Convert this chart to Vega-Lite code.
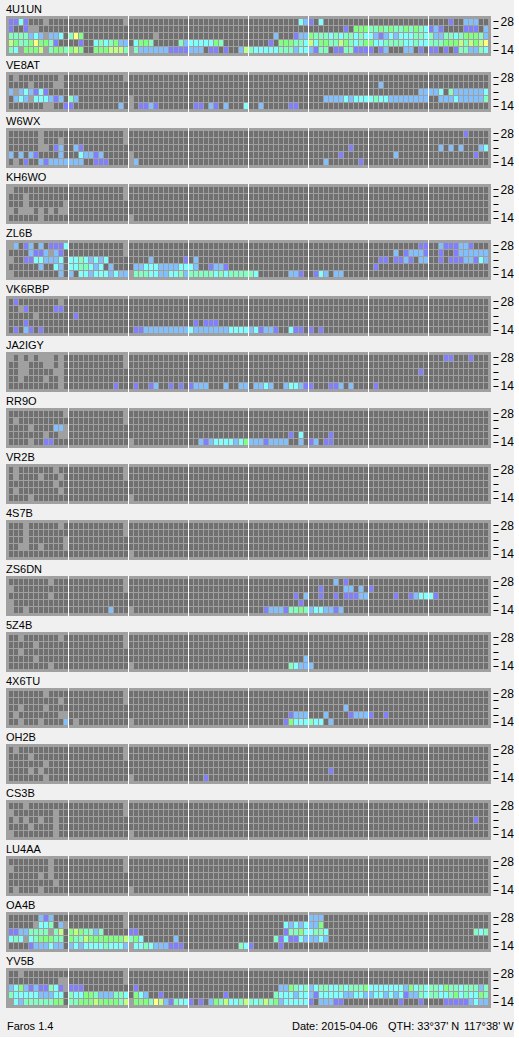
{"$schema":"https://vega.github.io/schema/vega-lite/v6.json","background":"#F0F0F0","padding":{"left":6,"top":3,"right":0,"bottom":0},"config":{"view":{"fill":"#A0A0A0","stroke":null},"font":"Liberation Sans"},"datasets":{"seps":[{"c":12},{"c":24},{"c":36},{"c":48},{"c":60},{"c":72},{"c":84}],
"foot":[{"t":"Faros 1.4","p":1},{"t":"Date: 2015-04-06","p":286},{"t":"QTH: 33°37' N","p":382},{"t":"117°38' W","p":458}],
"grid":[{"c":0,"b":"28"},{"c":1,"b":"28"},{"c":2,"b":"28"},{"c":3,"b":"28"},{"c":4,"b":"28"},{"c":5,"b":"28"},{"c":6,"b":"28"},{"c":7,"b":"28"},{"c":8,"b":"28"},{"c":9,"b":"28"},{"c":10,"b":"28"},{"c":11,"b":"28"},{"c":12,"b":"28"},{"c":13,"b":"28"},{"c":14,"b":"28"},{"c":15,"b":"28"},{"c":16,"b":"28"},{"c":17,"b":"28"},{"c":18,"b":"28"},{"c":19,"b":"28"},{"c":20,"b":"28"},{"c":21,"b":"28"},{"c":22,"b":"28"},{"c":23,"b":"28"},{"c":24,"b":"28"},{"c":25,"b":"28"},{"c":26,"b":"28"},{"c":27,"b":"28"},{"c":28,"b":"28"},{"c":29,"b":"28"},{"c":30,"b":"28"},{"c":31,"b":"28"},{"c":32,"b":"28"},{"c":33,"b":"28"},{"c":34,"b":"28"},{"c":35,"b":"28"},{"c":36,"b":"28"},{"c":37,"b":"28"},{"c":38,"b":"28"},{"c":39,"b":"28"},{"c":40,"b":"28"},{"c":41,"b":"28"},{"c":42,"b":"28"},{"c":43,"b":"28"},{"c":44,"b":"28"},{"c":45,"b":"28"},{"c":46,"b":"28"},{"c":47,"b":"28"},{"c":48,"b":"28"},{"c":49,"b":"28"},{"c":50,"b":"28"},{"c":51,"b":"28"},{"c":52,"b":"28"},{"c":53,"b":"28"},{"c":54,"b":"28"},{"c":55,"b":"28"},{"c":56,"b":"28"},{"c":57,"b":"28"},{"c":58,"b":"28"},{"c":59,"b":"28"},{"c":60,"b":"28"},{"c":61,"b":"28"},{"c":62,"b":"28"},{"c":63,"b":"28"},{"c":64,"b":"28"},{"c":65,"b":"28"},{"c":66,"b":"28"},{"c":67,"b":"28"},{"c":68,"b":"28"},{"c":69,"b":"28"},{"c":70,"b":"28"},{"c":71,"b":"28"},{"c":72,"b":"28"},{"c":73,"b":"28"},{"c":74,"b":"28"},{"c":75,"b":"28"},{"c":76,"b":"28"},{"c":77,"b":"28"},{"c":78,"b":"28"},{"c":79,"b":"28"},{"c":80,"b":"28"},{"c":81,"b":"28"},{"c":82,"b":"28"},{"c":83,"b":"28"},{"c":84,"b":"28"},{"c":85,"b":"28"},{"c":86,"b":"28"},{"c":87,"b":"28"},{"c":88,"b":"28"},{"c":89,"b":"28"},{"c":90,"b":"28"},{"c":91,"b":"28"},{"c":92,"b":"28"},{"c":93,"b":"28"},{"c":94,"b":"28"},{"c":95,"b":"28"},
{"c":0,"b":"24"},{"c":1,"b":"24"},{"c":2,"b":"24"},{"c":3,"b":"24"},{"c":4,"b":"24"},{"c":5,"b":"24"},{"c":6,"b":"24"},{"c":7,"b":"24"},{"c":8,"b":"24"},{"c":9,"b":"24"},{"c":10,"b":"24"},{"c":11,"b":"24"},{"c":12,"b":"24"},{"c":13,"b":"24"},{"c":14,"b":"24"},{"c":15,"b":"24"},{"c":16,"b":"24"},{"c":17,"b":"24"},{"c":18,"b":"24"},{"c":19,"b":"24"},{"c":20,"b":"24"},{"c":21,"b":"24"},{"c":22,"b":"24"},{"c":23,"b":"24"},{"c":24,"b":"24"},{"c":25,"b":"24"},{"c":26,"b":"24"},{"c":27,"b":"24"},{"c":28,"b":"24"},{"c":29,"b":"24"},{"c":30,"b":"24"},{"c":31,"b":"24"},{"c":32,"b":"24"},{"c":33,"b":"24"},{"c":34,"b":"24"},{"c":35,"b":"24"},{"c":36,"b":"24"},{"c":37,"b":"24"},{"c":38,"b":"24"},{"c":39,"b":"24"},{"c":40,"b":"24"},{"c":41,"b":"24"},{"c":42,"b":"24"},{"c":43,"b":"24"},{"c":44,"b":"24"},{"c":45,"b":"24"},{"c":46,"b":"24"},{"c":47,"b":"24"},{"c":48,"b":"24"},{"c":49,"b":"24"},{"c":50,"b":"24"},{"c":51,"b":"24"},{"c":52,"b":"24"},{"c":53,"b":"24"},{"c":54,"b":"24"},{"c":55,"b":"24"},{"c":56,"b":"24"},{"c":57,"b":"24"},{"c":58,"b":"24"},{"c":59,"b":"24"},{"c":60,"b":"24"},{"c":61,"b":"24"},{"c":62,"b":"24"},{"c":63,"b":"24"},{"c":64,"b":"24"},{"c":65,"b":"24"},{"c":66,"b":"24"},{"c":67,"b":"24"},{"c":68,"b":"24"},{"c":69,"b":"24"},{"c":70,"b":"24"},{"c":71,"b":"24"},{"c":72,"b":"24"},{"c":73,"b":"24"},{"c":74,"b":"24"},{"c":75,"b":"24"},{"c":76,"b":"24"},{"c":77,"b":"24"},{"c":78,"b":"24"},{"c":79,"b":"24"},{"c":80,"b":"24"},{"c":81,"b":"24"},{"c":82,"b":"24"},{"c":83,"b":"24"},{"c":84,"b":"24"},{"c":85,"b":"24"},{"c":86,"b":"24"},{"c":87,"b":"24"},{"c":88,"b":"24"},{"c":89,"b":"24"},{"c":90,"b":"24"},{"c":91,"b":"24"},{"c":92,"b":"24"},{"c":93,"b":"24"},{"c":94,"b":"24"},{"c":95,"b":"24"},
{"c":0,"b":"21"},{"c":1,"b":"21"},{"c":2,"b":"21"},{"c":3,"b":"21"},{"c":4,"b":"21"},{"c":5,"b":"21"},{"c":6,"b":"21"},{"c":7,"b":"21"},{"c":8,"b":"21"},{"c":9,"b":"21"},{"c":10,"b":"21"},{"c":11,"b":"21"},{"c":12,"b":"21"},{"c":13,"b":"21"},{"c":14,"b":"21"},{"c":15,"b":"21"},{"c":16,"b":"21"},{"c":17,"b":"21"},{"c":18,"b":"21"},{"c":19,"b":"21"},{"c":20,"b":"21"},{"c":21,"b":"21"},{"c":22,"b":"21"},{"c":23,"b":"21"},{"c":24,"b":"21"},{"c":25,"b":"21"},{"c":26,"b":"21"},{"c":27,"b":"21"},{"c":28,"b":"21"},{"c":29,"b":"21"},{"c":30,"b":"21"},{"c":31,"b":"21"},{"c":32,"b":"21"},{"c":33,"b":"21"},{"c":34,"b":"21"},{"c":35,"b":"21"},{"c":36,"b":"21"},{"c":37,"b":"21"},{"c":38,"b":"21"},{"c":39,"b":"21"},{"c":40,"b":"21"},{"c":41,"b":"21"},{"c":42,"b":"21"},{"c":43,"b":"21"},{"c":44,"b":"21"},{"c":45,"b":"21"},{"c":46,"b":"21"},{"c":47,"b":"21"},{"c":48,"b":"21"},{"c":49,"b":"21"},{"c":50,"b":"21"},{"c":51,"b":"21"},{"c":52,"b":"21"},{"c":53,"b":"21"},{"c":54,"b":"21"},{"c":55,"b":"21"},{"c":56,"b":"21"},{"c":57,"b":"21"},{"c":58,"b":"21"},{"c":59,"b":"21"},{"c":60,"b":"21"},{"c":61,"b":"21"},{"c":62,"b":"21"},{"c":63,"b":"21"},{"c":64,"b":"21"},{"c":65,"b":"21"},{"c":66,"b":"21"},{"c":67,"b":"21"},{"c":68,"b":"21"},{"c":69,"b":"21"},{"c":70,"b":"21"},{"c":71,"b":"21"},{"c":72,"b":"21"},{"c":73,"b":"21"},{"c":74,"b":"21"},{"c":75,"b":"21"},{"c":76,"b":"21"},{"c":77,"b":"21"},{"c":78,"b":"21"},{"c":79,"b":"21"},{"c":80,"b":"21"},{"c":81,"b":"21"},{"c":82,"b":"21"},{"c":83,"b":"21"},{"c":84,"b":"21"},{"c":85,"b":"21"},{"c":86,"b":"21"},{"c":87,"b":"21"},{"c":88,"b":"21"},{"c":89,"b":"21"},{"c":90,"b":"21"},{"c":91,"b":"21"},{"c":92,"b":"21"},{"c":93,"b":"21"},{"c":94,"b":"21"},{"c":95,"b":"21"},
{"c":0,"b":"18"},{"c":1,"b":"18"},{"c":2,"b":"18"},{"c":3,"b":"18"},{"c":4,"b":"18"},{"c":5,"b":"18"},{"c":6,"b":"18"},{"c":7,"b":"18"},{"c":8,"b":"18"},{"c":9,"b":"18"},{"c":10,"b":"18"},{"c":11,"b":"18"},{"c":12,"b":"18"},{"c":13,"b":"18"},{"c":14,"b":"18"},{"c":15,"b":"18"},{"c":16,"b":"18"},{"c":17,"b":"18"},{"c":18,"b":"18"},{"c":19,"b":"18"},{"c":20,"b":"18"},{"c":21,"b":"18"},{"c":22,"b":"18"},{"c":23,"b":"18"},{"c":24,"b":"18"},{"c":25,"b":"18"},{"c":26,"b":"18"},{"c":27,"b":"18"},{"c":28,"b":"18"},{"c":29,"b":"18"},{"c":30,"b":"18"},{"c":31,"b":"18"},{"c":32,"b":"18"},{"c":33,"b":"18"},{"c":34,"b":"18"},{"c":35,"b":"18"},{"c":36,"b":"18"},{"c":37,"b":"18"},{"c":38,"b":"18"},{"c":39,"b":"18"},{"c":40,"b":"18"},{"c":41,"b":"18"},{"c":42,"b":"18"},{"c":43,"b":"18"},{"c":44,"b":"18"},{"c":45,"b":"18"},{"c":46,"b":"18"},{"c":47,"b":"18"},{"c":48,"b":"18"},{"c":49,"b":"18"},{"c":50,"b":"18"},{"c":51,"b":"18"},{"c":52,"b":"18"},{"c":53,"b":"18"},{"c":54,"b":"18"},{"c":55,"b":"18"},{"c":56,"b":"18"},{"c":57,"b":"18"},{"c":58,"b":"18"},{"c":59,"b":"18"},{"c":60,"b":"18"},{"c":61,"b":"18"},{"c":62,"b":"18"},{"c":63,"b":"18"},{"c":64,"b":"18"},{"c":65,"b":"18"},{"c":66,"b":"18"},{"c":67,"b":"18"},{"c":68,"b":"18"},{"c":69,"b":"18"},{"c":70,"b":"18"},{"c":71,"b":"18"},{"c":72,"b":"18"},{"c":73,"b":"18"},{"c":74,"b":"18"},{"c":75,"b":"18"},{"c":76,"b":"18"},{"c":77,"b":"18"},{"c":78,"b":"18"},{"c":79,"b":"18"},{"c":80,"b":"18"},{"c":81,"b":"18"},{"c":82,"b":"18"},{"c":83,"b":"18"},{"c":84,"b":"18"},{"c":85,"b":"18"},{"c":86,"b":"18"},{"c":87,"b":"18"},{"c":88,"b":"18"},{"c":89,"b":"18"},{"c":90,"b":"18"},{"c":91,"b":"18"},{"c":92,"b":"18"},{"c":93,"b":"18"},{"c":94,"b":"18"},{"c":95,"b":"18"},
{"c":0,"b":"14"},{"c":1,"b":"14"},{"c":2,"b":"14"},{"c":3,"b":"14"},{"c":4,"b":"14"},{"c":5,"b":"14"},{"c":6,"b":"14"},{"c":7,"b":"14"},{"c":8,"b":"14"},{"c":9,"b":"14"},{"c":10,"b":"14"},{"c":11,"b":"14"},{"c":12,"b":"14"},{"c":13,"b":"14"},{"c":14,"b":"14"},{"c":15,"b":"14"},{"c":16,"b":"14"},{"c":17,"b":"14"},{"c":18,"b":"14"},{"c":19,"b":"14"},{"c":20,"b":"14"},{"c":21,"b":"14"},{"c":22,"b":"14"},{"c":23,"b":"14"},{"c":24,"b":"14"},{"c":25,"b":"14"},{"c":26,"b":"14"},{"c":27,"b":"14"},{"c":28,"b":"14"},{"c":29,"b":"14"},{"c":30,"b":"14"},{"c":31,"b":"14"},{"c":32,"b":"14"},{"c":33,"b":"14"},{"c":34,"b":"14"},{"c":35,"b":"14"},{"c":36,"b":"14"},{"c":37,"b":"14"},{"c":38,"b":"14"},{"c":39,"b":"14"},{"c":40,"b":"14"},{"c":41,"b":"14"},{"c":42,"b":"14"},{"c":43,"b":"14"},{"c":44,"b":"14"},{"c":45,"b":"14"},{"c":46,"b":"14"},{"c":47,"b":"14"},{"c":48,"b":"14"},{"c":49,"b":"14"},{"c":50,"b":"14"},{"c":51,"b":"14"},{"c":52,"b":"14"},{"c":53,"b":"14"},{"c":54,"b":"14"},{"c":55,"b":"14"},{"c":56,"b":"14"},{"c":57,"b":"14"},{"c":58,"b":"14"},{"c":59,"b":"14"},{"c":60,"b":"14"},{"c":61,"b":"14"},{"c":62,"b":"14"},{"c":63,"b":"14"},{"c":64,"b":"14"},{"c":65,"b":"14"},{"c":66,"b":"14"},{"c":67,"b":"14"},{"c":68,"b":"14"},{"c":69,"b":"14"},{"c":70,"b":"14"},{"c":71,"b":"14"},{"c":72,"b":"14"},{"c":73,"b":"14"},{"c":74,"b":"14"},{"c":75,"b":"14"},{"c":76,"b":"14"},{"c":77,"b":"14"},{"c":78,"b":"14"},{"c":79,"b":"14"},{"c":80,"b":"14"},{"c":81,"b":"14"},{"c":82,"b":"14"},{"c":83,"b":"14"},{"c":84,"b":"14"},{"c":85,"b":"14"},{"c":86,"b":"14"},{"c":87,"b":"14"},{"c":88,"b":"14"},{"c":89,"b":"14"},{"c":90,"b":"14"},{"c":91,"b":"14"},{"c":92,"b":"14"},{"c":93,"b":"14"},{"c":94,"b":"14"},{"c":95,"b":"14"}],
"cells":[
{"s":"4U1UN","b":"28","c":0,"v":1},{"s":"4U1UN","b":"28","c":1,"v":1},{"s":"4U1UN","b":"28","c":2,"v":3},{"s":"4U1UN","b":"28","c":3,"v":1},{"s":"4U1UN","b":"28","c":7,"v":0},{"s":"4U1UN","b":"28","c":23,"v":0},{"s":"4U1UN","b":"28","c":58,"v":3},{"s":"4U1UN","b":"28","c":59,"v":2},{"s":"4U1UN","b":"28","c":60,"v":1},{"s":"4U1UN","b":"28","c":62,"v":3},{"s":"4U1UN","b":"28","c":88,"v":1},{"s":"4U1UN","b":"28","c":91,"v":2},{"s":"4U1UN","b":"28","c":92,"v":2},{"s":"4U1UN","b":"28","c":93,"v":2},
{"s":"4U1UN","b":"24","c":0,"v":1},{"s":"4U1UN","b":"24","c":3,"v":1},{"s":"4U1UN","b":"24","c":4,"v":0},{"s":"4U1UN","b":"24","c":5,"v":0},{"s":"4U1UN","b":"24","c":67,"v":1},{"s":"4U1UN","b":"24","c":69,"v":5},{"s":"4U1UN","b":"24","c":70,"v":5},{"s":"4U1UN","b":"24","c":71,"v":5},{"s":"4U1UN","b":"24","c":72,"v":4},{"s":"4U1UN","b":"24","c":73,"v":4},{"s":"4U1UN","b":"24","c":74,"v":5},{"s":"4U1UN","b":"24","c":75,"v":4},{"s":"4U1UN","b":"24","c":76,"v":5},{"s":"4U1UN","b":"24","c":77,"v":4},{"s":"4U1UN","b":"24","c":78,"v":4},{"s":"4U1UN","b":"24","c":79,"v":5},{"s":"4U1UN","b":"24","c":80,"v":4},{"s":"4U1UN","b":"24","c":81,"v":5},{"s":"4U1UN","b":"24","c":82,"v":4},{"s":"4U1UN","b":"24","c":83,"v":3},{"s":"4U1UN","b":"24","c":84,"v":1},{"s":"4U1UN","b":"24","c":85,"v":2},{"s":"4U1UN","b":"24","c":86,"v":1},{"s":"4U1UN","b":"24","c":91,"v":1},{"s":"4U1UN","b":"24","c":92,"v":1},{"s":"4U1UN","b":"24","c":93,"v":1},{"s":"4U1UN","b":"24","c":95,"v":2},
{"s":"4U1UN","b":"21","c":0,"v":4},{"s":"4U1UN","b":"21","c":1,"v":4},{"s":"4U1UN","b":"21","c":2,"v":4},{"s":"4U1UN","b":"21","c":3,"v":4},{"s":"4U1UN","b":"21","c":4,"v":2},{"s":"4U1UN","b":"21","c":5,"v":3},{"s":"4U1UN","b":"21","c":6,"v":2},{"s":"4U1UN","b":"21","c":7,"v":0},{"s":"4U1UN","b":"21","c":8,"v":2},{"s":"4U1UN","b":"21","c":9,"v":2},{"s":"4U1UN","b":"21","c":10,"v":3},{"s":"4U1UN","b":"21","c":12,"v":4},{"s":"4U1UN","b":"21","c":13,"v":7},{"s":"4U1UN","b":"21","c":14,"v":5},{"s":"4U1UN","b":"21","c":29,"v":0},{"s":"4U1UN","b":"21","c":53,"v":2},{"s":"4U1UN","b":"21","c":57,"v":1},{"s":"4U1UN","b":"21","c":58,"v":2},{"s":"4U1UN","b":"21","c":59,"v":2},{"s":"4U1UN","b":"21","c":60,"v":5},{"s":"4U1UN","b":"21","c":61,"v":4},{"s":"4U1UN","b":"21","c":62,"v":4},{"s":"4U1UN","b":"21","c":63,"v":4},{"s":"4U1UN","b":"21","c":64,"v":3},{"s":"4U1UN","b":"21","c":65,"v":4},{"s":"4U1UN","b":"21","c":66,"v":3},{"s":"4U1UN","b":"21","c":67,"v":4},{"s":"4U1UN","b":"21","c":68,"v":4},{"s":"4U1UN","b":"21","c":69,"v":3},{"s":"4U1UN","b":"21","c":70,"v":4},{"s":"4U1UN","b":"21","c":71,"v":3},{"s":"4U1UN","b":"21","c":72,"v":3},{"s":"4U1UN","b":"21","c":73,"v":2},{"s":"4U1UN","b":"21","c":74,"v":1},{"s":"4U1UN","b":"21","c":75,"v":2},{"s":"4U1UN","b":"21","c":76,"v":3},{"s":"4U1UN","b":"21","c":77,"v":2},{"s":"4U1UN","b":"21","c":78,"v":3},{"s":"4U1UN","b":"21","c":79,"v":3},{"s":"4U1UN","b":"21","c":80,"v":3},{"s":"4U1UN","b":"21","c":81,"v":4},{"s":"4U1UN","b":"21","c":82,"v":4},{"s":"4U1UN","b":"21","c":83,"v":3},{"s":"4U1UN","b":"21","c":84,"v":4},{"s":"4U1UN","b":"21","c":85,"v":2},{"s":"4U1UN","b":"21","c":86,"v":2},{"s":"4U1UN","b":"21","c":87,"v":4},{"s":"4U1UN","b":"21","c":88,"v":4},{"s":"4U1UN","b":"21","c":89,"v":3},{"s":"4U1UN","b":"21","c":90,"v":4},{"s":"4U1UN","b":"21","c":91,"v":5},{"s":"4U1UN","b":"21","c":92,"v":5},{"s":"4U1UN","b":"21","c":93,"v":5},{"s":"4U1UN","b":"21","c":94,"v":4},{"s":"4U1UN","b":"21","c":95,"v":2},
{"s":"4U1UN","b":"18","c":0,"v":6},{"s":"4U1UN","b":"18","c":1,"v":5},{"s":"4U1UN","b":"18","c":2,"v":4},{"s":"4U1UN","b":"18","c":3,"v":4},{"s":"4U1UN","b":"18","c":4,"v":5},{"s":"4U1UN","b":"18","c":5,"v":7},{"s":"4U1UN","b":"18","c":6,"v":5},{"s":"4U1UN","b":"18","c":7,"v":5},{"s":"4U1UN","b":"18","c":8,"v":4},{"s":"4U1UN","b":"18","c":9,"v":1},{"s":"4U1UN","b":"18","c":14,"v":1},{"s":"4U1UN","b":"18","c":17,"v":3},{"s":"4U1UN","b":"18","c":18,"v":4},{"s":"4U1UN","b":"18","c":19,"v":3},{"s":"4U1UN","b":"18","c":20,"v":4},{"s":"4U1UN","b":"18","c":21,"v":5},{"s":"4U1UN","b":"18","c":22,"v":2},{"s":"4U1UN","b":"18","c":23,"v":2},{"s":"4U1UN","b":"18","c":25,"v":3},{"s":"4U1UN","b":"18","c":26,"v":5},{"s":"4U1UN","b":"18","c":27,"v":5},{"s":"4U1UN","b":"18","c":28,"v":4},{"s":"4U1UN","b":"18","c":34,"v":4},{"s":"4U1UN","b":"18","c":35,"v":2},{"s":"4U1UN","b":"18","c":36,"v":3},{"s":"4U1UN","b":"18","c":37,"v":3},{"s":"4U1UN","b":"18","c":38,"v":3},{"s":"4U1UN","b":"18","c":39,"v":3},{"s":"4U1UN","b":"18","c":40,"v":3},{"s":"4U1UN","b":"18","c":41,"v":5},{"s":"4U1UN","b":"18","c":42,"v":4},{"s":"4U1UN","b":"18","c":52,"v":1},{"s":"4U1UN","b":"18","c":54,"v":5},{"s":"4U1UN","b":"18","c":55,"v":5},{"s":"4U1UN","b":"18","c":56,"v":5},{"s":"4U1UN","b":"18","c":57,"v":4},{"s":"4U1UN","b":"18","c":58,"v":4},{"s":"4U1UN","b":"18","c":59,"v":3},{"s":"4U1UN","b":"18","c":60,"v":6},{"s":"4U1UN","b":"18","c":61,"v":3},{"s":"4U1UN","b":"18","c":62,"v":5},{"s":"4U1UN","b":"18","c":63,"v":5},{"s":"4U1UN","b":"18","c":64,"v":4},{"s":"4U1UN","b":"18","c":65,"v":4},{"s":"4U1UN","b":"18","c":66,"v":6},{"s":"4U1UN","b":"18","c":67,"v":5},{"s":"4U1UN","b":"18","c":68,"v":4},{"s":"4U1UN","b":"18","c":69,"v":3},{"s":"4U1UN","b":"18","c":70,"v":4},{"s":"4U1UN","b":"18","c":71,"v":5},{"s":"4U1UN","b":"18","c":72,"v":5},{"s":"4U1UN","b":"18","c":73,"v":3},{"s":"4U1UN","b":"18","c":74,"v":3},{"s":"4U1UN","b":"18","c":75,"v":4},{"s":"4U1UN","b":"18","c":76,"v":4},{"s":"4U1UN","b":"18","c":77,"v":4},{"s":"4U1UN","b":"18","c":78,"v":4},{"s":"4U1UN","b":"18","c":79,"v":3},{"s":"4U1UN","b":"18","c":80,"v":3},{"s":"4U1UN","b":"18","c":81,"v":4},{"s":"4U1UN","b":"18","c":82,"v":3},{"s":"4U1UN","b":"18","c":83,"v":3},{"s":"4U1UN","b":"18","c":84,"v":4},{"s":"4U1UN","b":"18","c":85,"v":4},{"s":"4U1UN","b":"18","c":86,"v":4},{"s":"4U1UN","b":"18","c":87,"v":5},{"s":"4U1UN","b":"18","c":88,"v":5},{"s":"4U1UN","b":"18","c":89,"v":5},{"s":"4U1UN","b":"18","c":90,"v":6},{"s":"4U1UN","b":"18","c":91,"v":4},{"s":"4U1UN","b":"18","c":92,"v":6},{"s":"4U1UN","b":"18","c":93,"v":5},{"s":"4U1UN","b":"18","c":94,"v":6},{"s":"4U1UN","b":"18","c":95,"v":7},
{"s":"4U1UN","b":"14","c":0,"v":4},{"s":"4U1UN","b":"14","c":1,"v":3},{"s":"4U1UN","b":"14","c":2,"v":0},{"s":"4U1UN","b":"14","c":3,"v":5},{"s":"4U1UN","b":"14","c":4,"v":5},{"s":"4U1UN","b":"14","c":5,"v":5},{"s":"4U1UN","b":"14","c":6,"v":6},{"s":"4U1UN","b":"14","c":7,"v":0},{"s":"4U1UN","b":"14","c":8,"v":4},{"s":"4U1UN","b":"14","c":9,"v":5},{"s":"4U1UN","b":"14","c":10,"v":5},{"s":"4U1UN","b":"14","c":11,"v":4},{"s":"4U1UN","b":"14","c":12,"v":5},{"s":"4U1UN","b":"14","c":13,"v":6},{"s":"4U1UN","b":"14","c":14,"v":5},{"s":"4U1UN","b":"14","c":17,"v":5},{"s":"4U1UN","b":"14","c":18,"v":5},{"s":"4U1UN","b":"14","c":19,"v":5},{"s":"4U1UN","b":"14","c":20,"v":6},{"s":"4U1UN","b":"14","c":21,"v":6},{"s":"4U1UN","b":"14","c":22,"v":6},{"s":"4U1UN","b":"14","c":23,"v":4},{"s":"4U1UN","b":"14","c":24,"v":0},{"s":"4U1UN","b":"14","c":25,"v":4},{"s":"4U1UN","b":"14","c":26,"v":2},{"s":"4U1UN","b":"14","c":27,"v":2},{"s":"4U1UN","b":"14","c":28,"v":2},{"s":"4U1UN","b":"14","c":29,"v":2},{"s":"4U1UN","b":"14","c":30,"v":2},{"s":"4U1UN","b":"14","c":31,"v":2},{"s":"4U1UN","b":"14","c":32,"v":1},{"s":"4U1UN","b":"14","c":33,"v":1},{"s":"4U1UN","b":"14","c":34,"v":1},{"s":"4U1UN","b":"14","c":35,"v":1},{"s":"4U1UN","b":"14","c":36,"v":2},{"s":"4U1UN","b":"14","c":37,"v":2},{"s":"4U1UN","b":"14","c":38,"v":2},{"s":"4U1UN","b":"14","c":40,"v":1},{"s":"4U1UN","b":"14","c":41,"v":1},{"s":"4U1UN","b":"14","c":43,"v":1},{"s":"4U1UN","b":"14","c":46,"v":2},{"s":"4U1UN","b":"14","c":47,"v":6},{"s":"4U1UN","b":"14","c":48,"v":4},{"s":"4U1UN","b":"14","c":49,"v":3},{"s":"4U1UN","b":"14","c":50,"v":3},{"s":"4U1UN","b":"14","c":51,"v":3},{"s":"4U1UN","b":"14","c":52,"v":3},{"s":"4U1UN","b":"14","c":53,"v":3},{"s":"4U1UN","b":"14","c":54,"v":4},{"s":"4U1UN","b":"14","c":55,"v":4},{"s":"4U1UN","b":"14","c":56,"v":4},{"s":"4U1UN","b":"14","c":57,"v":2},{"s":"4U1UN","b":"14","c":58,"v":3},{"s":"4U1UN","b":"14","c":59,"v":3},{"s":"4U1UN","b":"14","c":60,"v":2},{"s":"4U1UN","b":"14","c":61,"v":1},{"s":"4U1UN","b":"14","c":62,"v":4},{"s":"4U1UN","b":"14","c":63,"v":4},{"s":"4U1UN","b":"14","c":65,"v":1},{"s":"4U1UN","b":"14","c":66,"v":1},{"s":"4U1UN","b":"14","c":67,"v":4},{"s":"4U1UN","b":"14","c":68,"v":4},{"s":"4U1UN","b":"14","c":69,"v":1},{"s":"4U1UN","b":"14","c":70,"v":1},{"s":"4U1UN","b":"14","c":71,"v":1},{"s":"4U1UN","b":"14","c":72,"v":1},{"s":"4U1UN","b":"14","c":74,"v":1},{"s":"4U1UN","b":"14","c":75,"v":2},{"s":"4U1UN","b":"14","c":79,"v":2},{"s":"4U1UN","b":"14","c":80,"v":2},{"s":"4U1UN","b":"14","c":82,"v":1},{"s":"4U1UN","b":"14","c":84,"v":1},{"s":"4U1UN","b":"14","c":85,"v":1},{"s":"4U1UN","b":"14","c":87,"v":1},{"s":"4U1UN","b":"14","c":89,"v":1},{"s":"4U1UN","b":"14","c":90,"v":4},{"s":"4U1UN","b":"14","c":91,"v":4},{"s":"4U1UN","b":"14","c":92,"v":2},{"s":"4U1UN","b":"14","c":93,"v":2},{"s":"4U1UN","b":"14","c":94,"v":4},{"s":"4U1UN","b":"14","c":95,"v":3},
{"s":"VE8AT","b":"28","c":1,"v":0},{"s":"VE8AT","b":"28","c":10,"v":0},{"s":"VE8AT","b":"28","c":23,"v":0},
{"s":"VE8AT","b":"24","c":4,"v":0},{"s":"VE8AT","b":"24","c":9,"v":0},{"s":"VE8AT","b":"24","c":10,"v":0},{"s":"VE8AT","b":"24","c":74,"v":2},
{"s":"VE8AT","b":"21","c":0,"v":2},{"s":"VE8AT","b":"21","c":1,"v":0},{"s":"VE8AT","b":"21","c":2,"v":2},{"s":"VE8AT","b":"21","c":3,"v":3},{"s":"VE8AT","b":"21","c":4,"v":2},{"s":"VE8AT","b":"21","c":5,"v":1},{"s":"VE8AT","b":"21","c":6,"v":3},{"s":"VE8AT","b":"21","c":7,"v":1},{"s":"VE8AT","b":"21","c":82,"v":2},{"s":"VE8AT","b":"21","c":83,"v":2},{"s":"VE8AT","b":"21","c":84,"v":2},{"s":"VE8AT","b":"21","c":85,"v":2},{"s":"VE8AT","b":"21","c":86,"v":3},{"s":"VE8AT","b":"21","c":88,"v":4},{"s":"VE8AT","b":"21","c":89,"v":2},{"s":"VE8AT","b":"21","c":90,"v":2},{"s":"VE8AT","b":"21","c":91,"v":2},{"s":"VE8AT","b":"21","c":92,"v":2},{"s":"VE8AT","b":"21","c":93,"v":2},{"s":"VE8AT","b":"21","c":94,"v":2},{"s":"VE8AT","b":"21","c":95,"v":3},
{"s":"VE8AT","b":"18","c":1,"v":2},{"s":"VE8AT","b":"18","c":2,"v":3},{"s":"VE8AT","b":"18","c":3,"v":2},{"s":"VE8AT","b":"18","c":4,"v":0},{"s":"VE8AT","b":"18","c":5,"v":3},{"s":"VE8AT","b":"18","c":6,"v":3},{"s":"VE8AT","b":"18","c":7,"v":3},{"s":"VE8AT","b":"18","c":8,"v":2},{"s":"VE8AT","b":"18","c":9,"v":1},{"s":"VE8AT","b":"18","c":10,"v":2},{"s":"VE8AT","b":"18","c":12,"v":4},{"s":"VE8AT","b":"18","c":13,"v":2},{"s":"VE8AT","b":"18","c":24,"v":0},{"s":"VE8AT","b":"18","c":63,"v":2},{"s":"VE8AT","b":"18","c":64,"v":2},{"s":"VE8AT","b":"18","c":65,"v":2},{"s":"VE8AT","b":"18","c":66,"v":2},{"s":"VE8AT","b":"18","c":67,"v":3},{"s":"VE8AT","b":"18","c":68,"v":2},{"s":"VE8AT","b":"18","c":69,"v":3},{"s":"VE8AT","b":"18","c":70,"v":3},{"s":"VE8AT","b":"18","c":71,"v":3},{"s":"VE8AT","b":"18","c":72,"v":3},{"s":"VE8AT","b":"18","c":73,"v":4},{"s":"VE8AT","b":"18","c":74,"v":3},{"s":"VE8AT","b":"18","c":75,"v":3},{"s":"VE8AT","b":"18","c":76,"v":2},{"s":"VE8AT","b":"18","c":77,"v":2},{"s":"VE8AT","b":"18","c":78,"v":2},{"s":"VE8AT","b":"18","c":79,"v":2},{"s":"VE8AT","b":"18","c":80,"v":2},{"s":"VE8AT","b":"18","c":81,"v":2},{"s":"VE8AT","b":"18","c":82,"v":2},{"s":"VE8AT","b":"18","c":83,"v":2},{"s":"VE8AT","b":"18","c":86,"v":2},{"s":"VE8AT","b":"18","c":87,"v":2},{"s":"VE8AT","b":"18","c":88,"v":2},{"s":"VE8AT","b":"18","c":89,"v":3},{"s":"VE8AT","b":"18","c":90,"v":2},{"s":"VE8AT","b":"18","c":91,"v":2},{"s":"VE8AT","b":"18","c":92,"v":2},{"s":"VE8AT","b":"18","c":93,"v":2},{"s":"VE8AT","b":"18","c":94,"v":2},{"s":"VE8AT","b":"18","c":95,"v":4},
{"s":"VE8AT","b":"14","c":7,"v":0},{"s":"VE8AT","b":"14","c":8,"v":0},{"s":"VE8AT","b":"14","c":11,"v":1},{"s":"VE8AT","b":"14","c":12,"v":1},{"s":"VE8AT","b":"14","c":22,"v":2},{"s":"VE8AT","b":"14","c":24,"v":0},{"s":"VE8AT","b":"14","c":26,"v":1},{"s":"VE8AT","b":"14","c":27,"v":1},{"s":"VE8AT","b":"14","c":28,"v":2},{"s":"VE8AT","b":"14","c":29,"v":1},{"s":"VE8AT","b":"14","c":37,"v":1},{"s":"VE8AT","b":"14","c":38,"v":1},{"s":"VE8AT","b":"14","c":40,"v":2},{"s":"VE8AT","b":"14","c":41,"v":1},{"s":"VE8AT","b":"14","c":43,"v":2},{"s":"VE8AT","b":"14","c":47,"v":3},{"s":"VE8AT","b":"14","c":50,"v":2},{"s":"VE8AT","b":"14","c":56,"v":1},{"s":"VE8AT","b":"14","c":57,"v":1},
{"s":"W6WX","b":"28","c":6,"v":0},{"s":"W6WX","b":"28","c":23,"v":0},{"s":"W6WX","b":"28","c":91,"v":1},
{"s":"W6WX","b":"24","c":6,"v":0},{"s":"W6WX","b":"24","c":10,"v":0},{"s":"W6WX","b":"24","c":23,"v":0},
{"s":"W6WX","b":"21","c":6,"v":0},{"s":"W6WX","b":"21","c":7,"v":0},{"s":"W6WX","b":"21","c":9,"v":1},{"s":"W6WX","b":"21","c":10,"v":2},{"s":"W6WX","b":"21","c":13,"v":2},{"s":"W6WX","b":"21","c":14,"v":1},{"s":"W6WX","b":"21","c":68,"v":1},{"s":"W6WX","b":"21","c":86,"v":2},{"s":"W6WX","b":"21","c":88,"v":2},{"s":"W6WX","b":"21","c":90,"v":2},{"s":"W6WX","b":"21","c":94,"v":2},{"s":"W6WX","b":"21","c":95,"v":3},
{"s":"W6WX","b":"18","c":0,"v":2},{"s":"W6WX","b":"18","c":2,"v":2},{"s":"W6WX","b":"18","c":4,"v":2},{"s":"W6WX","b":"18","c":5,"v":1},{"s":"W6WX","b":"18","c":10,"v":2},{"s":"W6WX","b":"18","c":14,"v":3},{"s":"W6WX","b":"18","c":15,"v":2},{"s":"W6WX","b":"18","c":16,"v":2},{"s":"W6WX","b":"18","c":17,"v":1},{"s":"W6WX","b":"18","c":18,"v":2},{"s":"W6WX","b":"18","c":24,"v":0},{"s":"W6WX","b":"18","c":66,"v":1},{"s":"W6WX","b":"18","c":77,"v":2},{"s":"W6WX","b":"18","c":93,"v":1},
{"s":"W6WX","b":"14","c":1,"v":0},{"s":"W6WX","b":"14","c":3,"v":1},{"s":"W6WX","b":"14","c":6,"v":2},{"s":"W6WX","b":"14","c":7,"v":1},{"s":"W6WX","b":"14","c":8,"v":2},{"s":"W6WX","b":"14","c":9,"v":2},{"s":"W6WX","b":"14","c":10,"v":2},{"s":"W6WX","b":"14","c":11,"v":2},{"s":"W6WX","b":"14","c":12,"v":2},{"s":"W6WX","b":"14","c":13,"v":2},{"s":"W6WX","b":"14","c":14,"v":2},{"s":"W6WX","b":"14","c":17,"v":1},{"s":"W6WX","b":"14","c":18,"v":1},{"s":"W6WX","b":"14","c":19,"v":1},{"s":"W6WX","b":"14","c":24,"v":0},{"s":"W6WX","b":"14","c":25,"v":2},{"s":"W6WX","b":"14","c":63,"v":2},{"s":"W6WX","b":"14","c":70,"v":1},
{"s":"KH6WO","b":"28","c":0,"v":0},{"s":"KH6WO","b":"28","c":23,"v":0},{"s":"KH6WO","b":"24","c":3,"v":0},{"s":"KH6WO","b":"24","c":23,"v":0},{"s":"KH6WO","b":"21","c":3,"v":0},{"s":"KH6WO","b":"21","c":11,"v":0},{"s":"KH6WO","b":"18","c":0,"v":0},{"s":"KH6WO","b":"18","c":2,"v":0},{"s":"KH6WO","b":"18","c":3,"v":0},{"s":"KH6WO","b":"18","c":4,"v":0},{"s":"KH6WO","b":"18","c":6,"v":0},{"s":"KH6WO","b":"18","c":8,"v":0},{"s":"KH6WO","b":"18","c":10,"v":0},{"s":"KH6WO","b":"18","c":11,"v":0},{"s":"KH6WO","b":"14","c":6,"v":0},{"s":"KH6WO","b":"14","c":24,"v":0},
{"s":"ZL6B","b":"28","c":0,"v":0},{"s":"ZL6B","b":"28","c":1,"v":2},{"s":"ZL6B","b":"28","c":3,"v":1},{"s":"ZL6B","b":"28","c":4,"v":2},{"s":"ZL6B","b":"28","c":6,"v":2},{"s":"ZL6B","b":"28","c":8,"v":1},{"s":"ZL6B","b":"28","c":9,"v":1},{"s":"ZL6B","b":"28","c":10,"v":1},{"s":"ZL6B","b":"28","c":11,"v":3},{"s":"ZL6B","b":"28","c":23,"v":0},{"s":"ZL6B","b":"28","c":82,"v":1},{"s":"ZL6B","b":"28","c":83,"v":1},{"s":"ZL6B","b":"28","c":86,"v":2},{"s":"ZL6B","b":"28","c":87,"v":1},{"s":"ZL6B","b":"28","c":88,"v":1},{"s":"ZL6B","b":"28","c":89,"v":1},{"s":"ZL6B","b":"28","c":90,"v":2},{"s":"ZL6B","b":"28","c":91,"v":2},{"s":"ZL6B","b":"28","c":92,"v":1},
{"s":"ZL6B","b":"24","c":4,"v":2},{"s":"ZL6B","b":"24","c":5,"v":1},{"s":"ZL6B","b":"24","c":6,"v":1},{"s":"ZL6B","b":"24","c":7,"v":2},{"s":"ZL6B","b":"24","c":8,"v":0},{"s":"ZL6B","b":"24","c":9,"v":2},{"s":"ZL6B","b":"24","c":10,"v":1},{"s":"ZL6B","b":"24","c":23,"v":0},{"s":"ZL6B","b":"24","c":77,"v":2},{"s":"ZL6B","b":"24","c":79,"v":1},{"s":"ZL6B","b":"24","c":80,"v":2},{"s":"ZL6B","b":"24","c":81,"v":2},{"s":"ZL6B","b":"24","c":82,"v":2},{"s":"ZL6B","b":"24","c":83,"v":1},{"s":"ZL6B","b":"24","c":86,"v":1},{"s":"ZL6B","b":"24","c":89,"v":1},{"s":"ZL6B","b":"24","c":90,"v":2},{"s":"ZL6B","b":"24","c":91,"v":2},{"s":"ZL6B","b":"24","c":92,"v":2},{"s":"ZL6B","b":"24","c":93,"v":2},{"s":"ZL6B","b":"24","c":94,"v":2},{"s":"ZL6B","b":"24","c":95,"v":2},
{"s":"ZL6B","b":"21","c":0,"v":0},{"s":"ZL6B","b":"21","c":3,"v":1},{"s":"ZL6B","b":"21","c":4,"v":1},{"s":"ZL6B","b":"21","c":5,"v":3},{"s":"ZL6B","b":"21","c":6,"v":3},{"s":"ZL6B","b":"21","c":7,"v":2},{"s":"ZL6B","b":"21","c":8,"v":2},{"s":"ZL6B","b":"21","c":9,"v":2},{"s":"ZL6B","b":"21","c":10,"v":3},{"s":"ZL6B","b":"21","c":12,"v":3},{"s":"ZL6B","b":"21","c":13,"v":3},{"s":"ZL6B","b":"21","c":14,"v":4},{"s":"ZL6B","b":"21","c":15,"v":3},{"s":"ZL6B","b":"21","c":16,"v":2},{"s":"ZL6B","b":"21","c":17,"v":3},{"s":"ZL6B","b":"21","c":18,"v":2},{"s":"ZL6B","b":"21","c":19,"v":3},{"s":"ZL6B","b":"21","c":28,"v":2},{"s":"ZL6B","b":"21","c":35,"v":1},{"s":"ZL6B","b":"21","c":37,"v":2},{"s":"ZL6B","b":"21","c":74,"v":1},{"s":"ZL6B","b":"21","c":75,"v":1},{"s":"ZL6B","b":"21","c":77,"v":1},{"s":"ZL6B","b":"21","c":78,"v":1},{"s":"ZL6B","b":"21","c":79,"v":2},{"s":"ZL6B","b":"21","c":80,"v":1},{"s":"ZL6B","b":"21","c":82,"v":2},{"s":"ZL6B","b":"21","c":83,"v":2},{"s":"ZL6B","b":"21","c":86,"v":1},{"s":"ZL6B","b":"21","c":88,"v":1},{"s":"ZL6B","b":"21","c":89,"v":1},{"s":"ZL6B","b":"21","c":90,"v":1},{"s":"ZL6B","b":"21","c":91,"v":2},{"s":"ZL6B","b":"21","c":92,"v":2},{"s":"ZL6B","b":"21","c":93,"v":1},{"s":"ZL6B","b":"21","c":94,"v":3},{"s":"ZL6B","b":"21","c":95,"v":2},
{"s":"ZL6B","b":"18","c":6,"v":2},{"s":"ZL6B","b":"18","c":9,"v":3},{"s":"ZL6B","b":"18","c":10,"v":2},{"s":"ZL6B","b":"18","c":12,"v":3},{"s":"ZL6B","b":"18","c":13,"v":3},{"s":"ZL6B","b":"18","c":14,"v":4},{"s":"ZL6B","b":"18","c":15,"v":4},{"s":"ZL6B","b":"18","c":16,"v":3},{"s":"ZL6B","b":"18","c":17,"v":2},{"s":"ZL6B","b":"18","c":18,"v":3},{"s":"ZL6B","b":"18","c":20,"v":2},{"s":"ZL6B","b":"18","c":25,"v":2},{"s":"ZL6B","b":"18","c":26,"v":2},{"s":"ZL6B","b":"18","c":27,"v":3},{"s":"ZL6B","b":"18","c":28,"v":3},{"s":"ZL6B","b":"18","c":29,"v":3},{"s":"ZL6B","b":"18","c":30,"v":2},{"s":"ZL6B","b":"18","c":31,"v":2},{"s":"ZL6B","b":"18","c":32,"v":2},{"s":"ZL6B","b":"18","c":33,"v":2},{"s":"ZL6B","b":"18","c":34,"v":3},{"s":"ZL6B","b":"18","c":35,"v":3},{"s":"ZL6B","b":"18","c":36,"v":3},{"s":"ZL6B","b":"18","c":37,"v":2},{"s":"ZL6B","b":"18","c":40,"v":1},{"s":"ZL6B","b":"18","c":41,"v":2},{"s":"ZL6B","b":"18","c":42,"v":2},{"s":"ZL6B","b":"18","c":43,"v":1},{"s":"ZL6B","b":"18","c":73,"v":1},
{"s":"ZL6B","b":"14","c":0,"v":0},{"s":"ZL6B","b":"14","c":10,"v":2},{"s":"ZL6B","b":"14","c":12,"v":2},{"s":"ZL6B","b":"14","c":14,"v":3},{"s":"ZL6B","b":"14","c":15,"v":3},{"s":"ZL6B","b":"14","c":16,"v":2},{"s":"ZL6B","b":"14","c":17,"v":3},{"s":"ZL6B","b":"14","c":18,"v":3},{"s":"ZL6B","b":"14","c":19,"v":3},{"s":"ZL6B","b":"14","c":20,"v":2},{"s":"ZL6B","b":"14","c":21,"v":3},{"s":"ZL6B","b":"14","c":22,"v":2},{"s":"ZL6B","b":"14","c":23,"v":2},{"s":"ZL6B","b":"14","c":24,"v":0},{"s":"ZL6B","b":"14","c":25,"v":4},{"s":"ZL6B","b":"14","c":26,"v":4},{"s":"ZL6B","b":"14","c":27,"v":4},{"s":"ZL6B","b":"14","c":28,"v":3},{"s":"ZL6B","b":"14","c":29,"v":3},{"s":"ZL6B","b":"14","c":30,"v":2},{"s":"ZL6B","b":"14","c":31,"v":2},{"s":"ZL6B","b":"14","c":32,"v":3},{"s":"ZL6B","b":"14","c":33,"v":3},{"s":"ZL6B","b":"14","c":34,"v":4},{"s":"ZL6B","b":"14","c":35,"v":2},{"s":"ZL6B","b":"14","c":36,"v":4},{"s":"ZL6B","b":"14","c":37,"v":4},{"s":"ZL6B","b":"14","c":38,"v":4},{"s":"ZL6B","b":"14","c":39,"v":4},{"s":"ZL6B","b":"14","c":40,"v":4},{"s":"ZL6B","b":"14","c":41,"v":3},{"s":"ZL6B","b":"14","c":42,"v":4},{"s":"ZL6B","b":"14","c":43,"v":3},{"s":"ZL6B","b":"14","c":44,"v":4},{"s":"ZL6B","b":"14","c":45,"v":4},{"s":"ZL6B","b":"14","c":46,"v":4},{"s":"ZL6B","b":"14","c":47,"v":4},{"s":"ZL6B","b":"14","c":48,"v":4},{"s":"ZL6B","b":"14","c":49,"v":3},{"s":"ZL6B","b":"14","c":56,"v":2},{"s":"ZL6B","b":"14","c":57,"v":2},{"s":"ZL6B","b":"14","c":58,"v":1},{"s":"ZL6B","b":"14","c":61,"v":1},{"s":"ZL6B","b":"14","c":62,"v":3},{"s":"ZL6B","b":"14","c":63,"v":2},{"s":"ZL6B","b":"14","c":65,"v":2},{"s":"ZL6B","b":"14","c":66,"v":2},
{"s":"VK6RBP","b":"28","c":1,"v":1},{"s":"VK6RBP","b":"28","c":10,"v":0},{"s":"VK6RBP","b":"24","c":2,"v":0},{"s":"VK6RBP","b":"24","c":3,"v":1},{"s":"VK6RBP","b":"24","c":9,"v":1},{"s":"VK6RBP","b":"24","c":10,"v":1},{"s":"VK6RBP","b":"21","c":5,"v":0},{"s":"VK6RBP","b":"21","c":13,"v":1},{"s":"VK6RBP","b":"18","c":3,"v":1},{"s":"VK6RBP","b":"18","c":37,"v":1},{"s":"VK6RBP","b":"18","c":39,"v":1},{"s":"VK6RBP","b":"18","c":40,"v":1},{"s":"VK6RBP","b":"18","c":41,"v":1},
{"s":"VK6RBP","b":"14","c":1,"v":1},{"s":"VK6RBP","b":"14","c":3,"v":2},{"s":"VK6RBP","b":"14","c":4,"v":1},{"s":"VK6RBP","b":"14","c":6,"v":1},{"s":"VK6RBP","b":"14","c":25,"v":1},{"s":"VK6RBP","b":"14","c":26,"v":1},{"s":"VK6RBP","b":"14","c":27,"v":2},{"s":"VK6RBP","b":"14","c":28,"v":2},{"s":"VK6RBP","b":"14","c":29,"v":2},{"s":"VK6RBP","b":"14","c":30,"v":2},{"s":"VK6RBP","b":"14","c":31,"v":2},{"s":"VK6RBP","b":"14","c":32,"v":2},{"s":"VK6RBP","b":"14","c":33,"v":2},{"s":"VK6RBP","b":"14","c":34,"v":2},{"s":"VK6RBP","b":"14","c":35,"v":2},{"s":"VK6RBP","b":"14","c":36,"v":3},{"s":"VK6RBP","b":"14","c":37,"v":2},{"s":"VK6RBP","b":"14","c":38,"v":2},{"s":"VK6RBP","b":"14","c":39,"v":2},{"s":"VK6RBP","b":"14","c":40,"v":2},{"s":"VK6RBP","b":"14","c":41,"v":2},{"s":"VK6RBP","b":"14","c":42,"v":2},{"s":"VK6RBP","b":"14","c":43,"v":2},{"s":"VK6RBP","b":"14","c":44,"v":3},{"s":"VK6RBP","b":"14","c":45,"v":3},{"s":"VK6RBP","b":"14","c":46,"v":3},{"s":"VK6RBP","b":"14","c":47,"v":3},{"s":"VK6RBP","b":"14","c":48,"v":2},{"s":"VK6RBP","b":"14","c":49,"v":3},{"s":"VK6RBP","b":"14","c":50,"v":1},{"s":"VK6RBP","b":"14","c":51,"v":2},{"s":"VK6RBP","b":"14","c":52,"v":2},{"s":"VK6RBP","b":"14","c":53,"v":1},{"s":"VK6RBP","b":"14","c":56,"v":3},{"s":"VK6RBP","b":"14","c":57,"v":1},{"s":"VK6RBP","b":"14","c":58,"v":1},{"s":"VK6RBP","b":"14","c":60,"v":1},{"s":"VK6RBP","b":"14","c":62,"v":1},
{"s":"JA2IGY","b":"28","c":0,"v":0},{"s":"JA2IGY","b":"28","c":2,"v":0},{"s":"JA2IGY","b":"28","c":4,"v":0},{"s":"JA2IGY","b":"28","c":6,"v":0},{"s":"JA2IGY","b":"28","c":7,"v":0},{"s":"JA2IGY","b":"28","c":8,"v":0},{"s":"JA2IGY","b":"28","c":10,"v":0},{"s":"JA2IGY","b":"28","c":23,"v":0},{"s":"JA2IGY","b":"28","c":87,"v":1},{"s":"JA2IGY","b":"28","c":88,"v":1},{"s":"JA2IGY","b":"28","c":92,"v":1},
{"s":"JA2IGY","b":"24","c":2,"v":0},{"s":"JA2IGY","b":"24","c":3,"v":0},{"s":"JA2IGY","b":"24","c":7,"v":0},{"s":"JA2IGY","b":"24","c":8,"v":0},{"s":"JA2IGY","b":"24","c":10,"v":0},{"s":"JA2IGY","b":"24","c":23,"v":0},
{"s":"JA2IGY","b":"21","c":2,"v":0},{"s":"JA2IGY","b":"21","c":3,"v":0},{"s":"JA2IGY","b":"21","c":9,"v":0},{"s":"JA2IGY","b":"21","c":10,"v":0},{"s":"JA2IGY","b":"21","c":82,"v":1},
{"s":"JA2IGY","b":"18","c":2,"v":0},{"s":"JA2IGY","b":"18","c":7,"v":0},{"s":"JA2IGY","b":"18","c":10,"v":0},
{"s":"JA2IGY","b":"14","c":10,"v":0},{"s":"JA2IGY","b":"14","c":21,"v":1},{"s":"JA2IGY","b":"14","c":25,"v":1},{"s":"JA2IGY","b":"14","c":28,"v":1},{"s":"JA2IGY","b":"14","c":29,"v":2},{"s":"JA2IGY","b":"14","c":32,"v":1},{"s":"JA2IGY","b":"14","c":34,"v":1},{"s":"JA2IGY","b":"14","c":36,"v":1},{"s":"JA2IGY","b":"14","c":37,"v":2},{"s":"JA2IGY","b":"14","c":38,"v":2},{"s":"JA2IGY","b":"14","c":39,"v":2},{"s":"JA2IGY","b":"14","c":43,"v":2},{"s":"JA2IGY","b":"14","c":46,"v":2},{"s":"JA2IGY","b":"14","c":47,"v":2},{"s":"JA2IGY","b":"14","c":49,"v":2},{"s":"JA2IGY","b":"14","c":50,"v":2},{"s":"JA2IGY","b":"14","c":51,"v":3},{"s":"JA2IGY","b":"14","c":52,"v":2},{"s":"JA2IGY","b":"14","c":55,"v":2},{"s":"JA2IGY","b":"14","c":56,"v":3},{"s":"JA2IGY","b":"14","c":57,"v":3},{"s":"JA2IGY","b":"14","c":58,"v":2},{"s":"JA2IGY","b":"14","c":59,"v":1},{"s":"JA2IGY","b":"14","c":60,"v":1},{"s":"JA2IGY","b":"14","c":64,"v":1},{"s":"JA2IGY","b":"14","c":65,"v":1},{"s":"JA2IGY","b":"14","c":66,"v":2},{"s":"JA2IGY","b":"14","c":68,"v":2},{"s":"JA2IGY","b":"14","c":73,"v":1},
{"s":"RR9O","b":"28","c":11,"v":0},{"s":"RR9O","b":"28","c":23,"v":0},{"s":"RR9O","b":"24","c":1,"v":0},{"s":"RR9O","b":"24","c":23,"v":0},{"s":"RR9O","b":"21","c":4,"v":0},{"s":"RR9O","b":"21","c":9,"v":2},{"s":"RR9O","b":"21","c":10,"v":2},{"s":"RR9O","b":"21","c":11,"v":0},{"s":"RR9O","b":"18","c":7,"v":0},{"s":"RR9O","b":"18","c":10,"v":0},{"s":"RR9O","b":"18","c":11,"v":0},{"s":"RR9O","b":"18","c":56,"v":1},{"s":"RR9O","b":"18","c":58,"v":3},{"s":"RR9O","b":"18","c":64,"v":1},
{"s":"RR9O","b":"14","c":4,"v":0},{"s":"RR9O","b":"14","c":7,"v":1},{"s":"RR9O","b":"14","c":8,"v":1},{"s":"RR9O","b":"14","c":24,"v":0},{"s":"RR9O","b":"14","c":38,"v":2},{"s":"RR9O","b":"14","c":39,"v":1},{"s":"RR9O","b":"14","c":40,"v":2},{"s":"RR9O","b":"14","c":41,"v":3},{"s":"RR9O","b":"14","c":42,"v":3},{"s":"RR9O","b":"14","c":43,"v":3},{"s":"RR9O","b":"14","c":44,"v":3},{"s":"RR9O","b":"14","c":45,"v":2},{"s":"RR9O","b":"14","c":46,"v":3},{"s":"RR9O","b":"14","c":47,"v":5},{"s":"RR9O","b":"14","c":48,"v":2},{"s":"RR9O","b":"14","c":49,"v":2},{"s":"RR9O","b":"14","c":50,"v":2},{"s":"RR9O","b":"14","c":51,"v":1},{"s":"RR9O","b":"14","c":52,"v":2},{"s":"RR9O","b":"14","c":53,"v":2},{"s":"RR9O","b":"14","c":54,"v":2},{"s":"RR9O","b":"14","c":55,"v":2},{"s":"RR9O","b":"14","c":58,"v":2},{"s":"RR9O","b":"14","c":60,"v":1},{"s":"RR9O","b":"14","c":61,"v":2},{"s":"RR9O","b":"14","c":63,"v":1},{"s":"RR9O","b":"14","c":64,"v":1},
{"s":"VR2B","b":"28","c":1,"v":0},{"s":"VR2B","b":"28","c":9,"v":0},{"s":"VR2B","b":"28","c":23,"v":0},{"s":"VR2B","b":"24","c":1,"v":0},{"s":"VR2B","b":"24","c":6,"v":0},{"s":"VR2B","b":"24","c":10,"v":0},{"s":"VR2B","b":"24","c":23,"v":0},{"s":"VR2B","b":"21","c":9,"v":0},{"s":"VR2B","b":"18","c":1,"v":0},{"s":"VR2B","b":"18","c":10,"v":0},{"s":"VR2B","b":"14","c":4,"v":0},{"s":"VR2B","b":"14","c":24,"v":0},
{"s":"4S7B","b":"28","c":3,"v":0},{"s":"4S7B","b":"28","c":10,"v":0},{"s":"4S7B","b":"28","c":23,"v":0},{"s":"4S7B","b":"24","c":3,"v":0},{"s":"4S7B","b":"24","c":23,"v":0},{"s":"4S7B","b":"21","c":3,"v":0},{"s":"4S7B","b":"21","c":11,"v":0},{"s":"4S7B","b":"18","c":2,"v":0},{"s":"4S7B","b":"18","c":3,"v":0},{"s":"4S7B","b":"18","c":6,"v":0},{"s":"4S7B","b":"18","c":11,"v":0},{"s":"4S7B","b":"14","c":24,"v":0},
{"s":"ZS6DN","b":"28","c":8,"v":0},{"s":"ZS6DN","b":"28","c":23,"v":0},{"s":"ZS6DN","b":"28","c":65,"v":2},{"s":"ZS6DN","b":"28","c":67,"v":1},
{"s":"ZS6DN","b":"24","c":0,"v":0},{"s":"ZS6DN","b":"24","c":23,"v":0},{"s":"ZS6DN","b":"24","c":62,"v":1},{"s":"ZS6DN","b":"24","c":67,"v":2},{"s":"ZS6DN","b":"24","c":68,"v":2},{"s":"ZS6DN","b":"24","c":70,"v":2},{"s":"ZS6DN","b":"24","c":72,"v":1},
{"s":"ZS6DN","b":"21","c":8,"v":0},{"s":"ZS6DN","b":"21","c":57,"v":1},{"s":"ZS6DN","b":"21","c":59,"v":2},{"s":"ZS6DN","b":"21","c":62,"v":1},{"s":"ZS6DN","b":"21","c":65,"v":1},{"s":"ZS6DN","b":"21","c":67,"v":1},{"s":"ZS6DN","b":"21","c":68,"v":1},{"s":"ZS6DN","b":"21","c":69,"v":1},{"s":"ZS6DN","b":"21","c":70,"v":2},{"s":"ZS6DN","b":"21","c":71,"v":2},{"s":"ZS6DN","b":"21","c":77,"v":1},{"s":"ZS6DN","b":"21","c":80,"v":1},{"s":"ZS6DN","b":"21","c":81,"v":2},{"s":"ZS6DN","b":"21","c":82,"v":3},{"s":"ZS6DN","b":"21","c":83,"v":3},{"s":"ZS6DN","b":"21","c":84,"v":3},{"s":"ZS6DN","b":"21","c":85,"v":1},
{"s":"ZS6DN","b":"18","c":0,"v":0},{"s":"ZS6DN","b":"18","c":58,"v":1},
{"s":"ZS6DN","b":"14","c":0,"v":0},{"s":"ZS6DN","b":"14","c":3,"v":0},{"s":"ZS6DN","b":"14","c":20,"v":2},{"s":"ZS6DN","b":"14","c":24,"v":0},{"s":"ZS6DN","b":"14","c":51,"v":1},{"s":"ZS6DN","b":"14","c":52,"v":2},{"s":"ZS6DN","b":"14","c":53,"v":2},{"s":"ZS6DN","b":"14","c":54,"v":2},{"s":"ZS6DN","b":"14","c":55,"v":1},{"s":"ZS6DN","b":"14","c":56,"v":4},{"s":"ZS6DN","b":"14","c":57,"v":4},{"s":"ZS6DN","b":"14","c":58,"v":5},{"s":"ZS6DN","b":"14","c":59,"v":4},{"s":"ZS6DN","b":"14","c":60,"v":2},{"s":"ZS6DN","b":"14","c":61,"v":3},{"s":"ZS6DN","b":"14","c":62,"v":3},{"s":"ZS6DN","b":"14","c":63,"v":2},{"s":"ZS6DN","b":"14","c":64,"v":2},{"s":"ZS6DN","b":"14","c":65,"v":1},{"s":"ZS6DN","b":"14","c":66,"v":2},
{"s":"5Z4B","b":"28","c":2,"v":0},{"s":"5Z4B","b":"28","c":10,"v":0},{"s":"5Z4B","b":"28","c":23,"v":0},{"s":"5Z4B","b":"24","c":5,"v":0},{"s":"5Z4B","b":"24","c":23,"v":0},{"s":"5Z4B","b":"21","c":2,"v":0},{"s":"5Z4B","b":"18","c":5,"v":0},{"s":"5Z4B","b":"18","c":59,"v":2},{"s":"5Z4B","b":"14","c":8,"v":0},{"s":"5Z4B","b":"14","c":24,"v":0},{"s":"5Z4B","b":"14","c":56,"v":4},{"s":"5Z4B","b":"14","c":57,"v":3},{"s":"5Z4B","b":"14","c":58,"v":2},{"s":"5Z4B","b":"14","c":59,"v":2},{"s":"5Z4B","b":"14","c":60,"v":2},
{"s":"4X6TU","b":"28","c":7,"v":0},{"s":"4X6TU","b":"28","c":23,"v":0},{"s":"4X6TU","b":"24","c":10,"v":0},{"s":"4X6TU","b":"24","c":23,"v":0},{"s":"4X6TU","b":"21","c":2,"v":0},{"s":"4X6TU","b":"21","c":7,"v":0},{"s":"4X6TU","b":"21","c":67,"v":2},
{"s":"4X6TU","b":"18","c":1,"v":0},{"s":"4X6TU","b":"18","c":10,"v":0},{"s":"4X6TU","b":"18","c":11,"v":0},{"s":"4X6TU","b":"18","c":56,"v":1},{"s":"4X6TU","b":"18","c":57,"v":2},{"s":"4X6TU","b":"18","c":58,"v":2},{"s":"4X6TU","b":"18","c":59,"v":2},{"s":"4X6TU","b":"18","c":63,"v":2},{"s":"4X6TU","b":"18","c":68,"v":1},{"s":"4X6TU","b":"18","c":69,"v":2},{"s":"4X6TU","b":"18","c":70,"v":2},{"s":"4X6TU","b":"18","c":71,"v":2},{"s":"4X6TU","b":"18","c":72,"v":1},{"s":"4X6TU","b":"18","c":75,"v":1},
{"s":"4X6TU","b":"14","c":2,"v":0},{"s":"4X6TU","b":"14","c":6,"v":0},{"s":"4X6TU","b":"14","c":11,"v":2},{"s":"4X6TU","b":"14","c":13,"v":0},{"s":"4X6TU","b":"14","c":24,"v":0},{"s":"4X6TU","b":"14","c":55,"v":1},{"s":"4X6TU","b":"14","c":56,"v":5},{"s":"4X6TU","b":"14","c":57,"v":3},{"s":"4X6TU","b":"14","c":58,"v":3},{"s":"4X6TU","b":"14","c":59,"v":3},{"s":"4X6TU","b":"14","c":60,"v":4},{"s":"4X6TU","b":"14","c":61,"v":3},{"s":"4X6TU","b":"14","c":62,"v":3},{"s":"4X6TU","b":"14","c":64,"v":2},
{"s":"OH2B","b":"28","c":1,"v":0},{"s":"OH2B","b":"28","c":23,"v":0},{"s":"OH2B","b":"24","c":4,"v":0},{"s":"OH2B","b":"24","c":23,"v":0},{"s":"OH2B","b":"21","c":7,"v":0},{"s":"OH2B","b":"18","c":4,"v":0},{"s":"OH2B","b":"18","c":6,"v":0},{"s":"OH2B","b":"18","c":64,"v":1},{"s":"OH2B","b":"14","c":7,"v":0},{"s":"OH2B","b":"14","c":24,"v":0},{"s":"OH2B","b":"14","c":39,"v":1},
{"s":"CS3B","b":"28","c":3,"v":0},{"s":"CS3B","b":"28","c":23,"v":0},{"s":"CS3B","b":"24","c":0,"v":0},{"s":"CS3B","b":"24","c":9,"v":0},{"s":"CS3B","b":"24","c":23,"v":0},{"s":"CS3B","b":"21","c":1,"v":0},{"s":"CS3B","b":"21","c":3,"v":0},{"s":"CS3B","b":"21","c":6,"v":0},{"s":"CS3B","b":"21","c":9,"v":0},{"s":"CS3B","b":"21","c":93,"v":1},{"s":"CS3B","b":"18","c":4,"v":0},{"s":"CS3B","b":"18","c":9,"v":0},{"s":"CS3B","b":"14","c":0,"v":0},{"s":"CS3B","b":"14","c":9,"v":0},{"s":"CS3B","b":"14","c":24,"v":0},
{"s":"LU4AA","b":"28","c":8,"v":0},{"s":"LU4AA","b":"28","c":23,"v":0},{"s":"LU4AA","b":"24","c":0,"v":0},{"s":"LU4AA","b":"24","c":8,"v":0},{"s":"LU4AA","b":"24","c":23,"v":0},{"s":"LU4AA","b":"21","c":6,"v":0},{"s":"LU4AA","b":"21","c":8,"v":0},{"s":"LU4AA","b":"18","c":9,"v":0},{"s":"LU4AA","b":"14","c":1,"v":0},{"s":"LU4AA","b":"14","c":6,"v":0},{"s":"LU4AA","b":"14","c":24,"v":0},
{"s":"OA4B","b":"28","c":6,"v":2},{"s":"OA4B","b":"28","c":7,"v":1},{"s":"OA4B","b":"28","c":8,"v":2},{"s":"OA4B","b":"28","c":23,"v":0},{"s":"OA4B","b":"28","c":60,"v":2},{"s":"OA4B","b":"28","c":61,"v":2},{"s":"OA4B","b":"28","c":62,"v":2},
{"s":"OA4B","b":"24","c":5,"v":0},{"s":"OA4B","b":"24","c":6,"v":3},{"s":"OA4B","b":"24","c":7,"v":3},{"s":"OA4B","b":"24","c":8,"v":4},{"s":"OA4B","b":"24","c":10,"v":2},{"s":"OA4B","b":"24","c":11,"v":0},{"s":"OA4B","b":"24","c":23,"v":0},{"s":"OA4B","b":"24","c":55,"v":3},{"s":"OA4B","b":"24","c":56,"v":2},{"s":"OA4B","b":"24","c":57,"v":3},{"s":"OA4B","b":"24","c":58,"v":2},{"s":"OA4B","b":"24","c":59,"v":3},{"s":"OA4B","b":"24","c":60,"v":2},{"s":"OA4B","b":"24","c":61,"v":2},{"s":"OA4B","b":"24","c":62,"v":5},
{"s":"OA4B","b":"21","c":0,"v":1},{"s":"OA4B","b":"21","c":1,"v":1},{"s":"OA4B","b":"21","c":2,"v":2},{"s":"OA4B","b":"21","c":3,"v":2},{"s":"OA4B","b":"21","c":4,"v":4},{"s":"OA4B","b":"21","c":5,"v":4},{"s":"OA4B","b":"21","c":6,"v":4},{"s":"OA4B","b":"21","c":7,"v":4},{"s":"OA4B","b":"21","c":8,"v":0},{"s":"OA4B","b":"21","c":9,"v":4},{"s":"OA4B","b":"21","c":10,"v":6},{"s":"OA4B","b":"21","c":12,"v":5},{"s":"OA4B","b":"21","c":13,"v":6},{"s":"OA4B","b":"21","c":14,"v":5},{"s":"OA4B","b":"21","c":15,"v":4},{"s":"OA4B","b":"21","c":16,"v":4},{"s":"OA4B","b":"21","c":17,"v":2},{"s":"OA4B","b":"21","c":18,"v":4},{"s":"OA4B","b":"21","c":24,"v":1},{"s":"OA4B","b":"21","c":25,"v":1},{"s":"OA4B","b":"21","c":55,"v":1},{"s":"OA4B","b":"21","c":56,"v":4},{"s":"OA4B","b":"21","c":57,"v":4},{"s":"OA4B","b":"21","c":58,"v":5},{"s":"OA4B","b":"21","c":59,"v":3},{"s":"OA4B","b":"21","c":60,"v":3},{"s":"OA4B","b":"21","c":61,"v":4},{"s":"OA4B","b":"21","c":62,"v":4},{"s":"OA4B","b":"21","c":63,"v":3},{"s":"OA4B","b":"21","c":93,"v":4},{"s":"OA4B","b":"21","c":94,"v":3},{"s":"OA4B","b":"21","c":95,"v":4},
{"s":"OA4B","b":"18","c":0,"v":3},{"s":"OA4B","b":"18","c":1,"v":4},{"s":"OA4B","b":"18","c":2,"v":3},{"s":"OA4B","b":"18","c":3,"v":0},{"s":"OA4B","b":"18","c":4,"v":3},{"s":"OA4B","b":"18","c":5,"v":4},{"s":"OA4B","b":"18","c":6,"v":5},{"s":"OA4B","b":"18","c":7,"v":5},{"s":"OA4B","b":"18","c":8,"v":5},{"s":"OA4B","b":"18","c":9,"v":4},{"s":"OA4B","b":"18","c":10,"v":4},{"s":"OA4B","b":"18","c":12,"v":5},{"s":"OA4B","b":"18","c":13,"v":4},{"s":"OA4B","b":"18","c":14,"v":4},{"s":"OA4B","b":"18","c":15,"v":6},{"s":"OA4B","b":"18","c":16,"v":5},{"s":"OA4B","b":"18","c":17,"v":5},{"s":"OA4B","b":"18","c":18,"v":5},{"s":"OA4B","b":"18","c":19,"v":5},{"s":"OA4B","b":"18","c":20,"v":5},{"s":"OA4B","b":"18","c":21,"v":5},{"s":"OA4B","b":"18","c":22,"v":5},{"s":"OA4B","b":"18","c":23,"v":6},{"s":"OA4B","b":"18","c":24,"v":4},{"s":"OA4B","b":"18","c":25,"v":5},{"s":"OA4B","b":"18","c":26,"v":3},{"s":"OA4B","b":"18","c":33,"v":2},{"s":"OA4B","b":"18","c":53,"v":4},{"s":"OA4B","b":"18","c":54,"v":1},{"s":"OA4B","b":"18","c":55,"v":3},{"s":"OA4B","b":"18","c":56,"v":1},{"s":"OA4B","b":"18","c":57,"v":1},{"s":"OA4B","b":"18","c":58,"v":3},{"s":"OA4B","b":"18","c":59,"v":2},{"s":"OA4B","b":"18","c":60,"v":2},{"s":"OA4B","b":"18","c":61,"v":2},{"s":"OA4B","b":"18","c":62,"v":3},{"s":"OA4B","b":"18","c":63,"v":2},
{"s":"OA4B","b":"14","c":4,"v":1},{"s":"OA4B","b":"14","c":5,"v":2},{"s":"OA4B","b":"14","c":6,"v":2},{"s":"OA4B","b":"14","c":7,"v":2},{"s":"OA4B","b":"14","c":8,"v":3},{"s":"OA4B","b":"14","c":9,"v":2},{"s":"OA4B","b":"14","c":10,"v":2},{"s":"OA4B","b":"14","c":12,"v":2},{"s":"OA4B","b":"14","c":13,"v":3},{"s":"OA4B","b":"14","c":14,"v":2},{"s":"OA4B","b":"14","c":15,"v":3},{"s":"OA4B","b":"14","c":16,"v":3},{"s":"OA4B","b":"14","c":17,"v":3},{"s":"OA4B","b":"14","c":18,"v":3},{"s":"OA4B","b":"14","c":19,"v":4},{"s":"OA4B","b":"14","c":20,"v":3},{"s":"OA4B","b":"14","c":21,"v":3},{"s":"OA4B","b":"14","c":22,"v":3},{"s":"OA4B","b":"14","c":23,"v":2},{"s":"OA4B","b":"14","c":24,"v":0},{"s":"OA4B","b":"14","c":25,"v":3},{"s":"OA4B","b":"14","c":26,"v":3},{"s":"OA4B","b":"14","c":27,"v":4},{"s":"OA4B","b":"14","c":28,"v":3},{"s":"OA4B","b":"14","c":29,"v":2},{"s":"OA4B","b":"14","c":30,"v":2},{"s":"OA4B","b":"14","c":31,"v":2},{"s":"OA4B","b":"14","c":32,"v":1},{"s":"OA4B","b":"14","c":33,"v":1},{"s":"OA4B","b":"14","c":34,"v":1},{"s":"OA4B","b":"14","c":46,"v":4},{"s":"OA4B","b":"14","c":47,"v":3},{"s":"OA4B","b":"14","c":48,"v":1},{"s":"OA4B","b":"14","c":54,"v":1},
{"s":"YV5B","b":"28","c":2,"v":0},{"s":"YV5B","b":"28","c":23,"v":0},{"s":"YV5B","b":"24","c":10,"v":0},{"s":"YV5B","b":"24","c":11,"v":0},{"s":"YV5B","b":"24","c":23,"v":0},
{"s":"YV5B","b":"21","c":0,"v":2},{"s":"YV5B","b":"21","c":1,"v":3},{"s":"YV5B","b":"21","c":2,"v":5},{"s":"YV5B","b":"21","c":3,"v":2},{"s":"YV5B","b":"21","c":4,"v":1},{"s":"YV5B","b":"21","c":5,"v":2},{"s":"YV5B","b":"21","c":6,"v":1},{"s":"YV5B","b":"21","c":7,"v":1},{"s":"YV5B","b":"21","c":8,"v":4},{"s":"YV5B","b":"21","c":9,"v":3},{"s":"YV5B","b":"21","c":10,"v":1},{"s":"YV5B","b":"21","c":11,"v":0},{"s":"YV5B","b":"21","c":12,"v":1},{"s":"YV5B","b":"21","c":13,"v":1},{"s":"YV5B","b":"21","c":14,"v":1},{"s":"YV5B","b":"21","c":25,"v":1},{"s":"YV5B","b":"21","c":54,"v":2},{"s":"YV5B","b":"21","c":55,"v":2},{"s":"YV5B","b":"21","c":56,"v":5},{"s":"YV5B","b":"21","c":57,"v":4},{"s":"YV5B","b":"21","c":58,"v":3},{"s":"YV5B","b":"21","c":59,"v":4},{"s":"YV5B","b":"21","c":60,"v":2},{"s":"YV5B","b":"21","c":61,"v":3},{"s":"YV5B","b":"21","c":62,"v":4},{"s":"YV5B","b":"21","c":63,"v":4},{"s":"YV5B","b":"21","c":64,"v":3},{"s":"YV5B","b":"21","c":65,"v":3},{"s":"YV5B","b":"21","c":66,"v":4},{"s":"YV5B","b":"21","c":67,"v":3},{"s":"YV5B","b":"21","c":68,"v":4},{"s":"YV5B","b":"21","c":69,"v":4},{"s":"YV5B","b":"21","c":70,"v":4},{"s":"YV5B","b":"21","c":71,"v":5},{"s":"YV5B","b":"21","c":72,"v":3},{"s":"YV5B","b":"21","c":73,"v":3},{"s":"YV5B","b":"21","c":74,"v":3},{"s":"YV5B","b":"21","c":75,"v":3},{"s":"YV5B","b":"21","c":76,"v":3},{"s":"YV5B","b":"21","c":77,"v":3},{"s":"YV5B","b":"21","c":78,"v":3},{"s":"YV5B","b":"21","c":79,"v":2},{"s":"YV5B","b":"21","c":80,"v":5},{"s":"YV5B","b":"21","c":81,"v":3},{"s":"YV5B","b":"21","c":82,"v":4},{"s":"YV5B","b":"21","c":83,"v":3},{"s":"YV5B","b":"21","c":84,"v":4},{"s":"YV5B","b":"21","c":85,"v":4},{"s":"YV5B","b":"21","c":86,"v":3},{"s":"YV5B","b":"21","c":87,"v":5},{"s":"YV5B","b":"21","c":88,"v":4},{"s":"YV5B","b":"21","c":89,"v":4},{"s":"YV5B","b":"21","c":90,"v":3},{"s":"YV5B","b":"21","c":91,"v":4},{"s":"YV5B","b":"21","c":92,"v":4},{"s":"YV5B","b":"21","c":93,"v":4},{"s":"YV5B","b":"21","c":94,"v":2},{"s":"YV5B","b":"21","c":95,"v":4},
{"s":"YV5B","b":"18","c":0,"v":4},{"s":"YV5B","b":"18","c":1,"v":3},{"s":"YV5B","b":"18","c":2,"v":3},{"s":"YV5B","b":"18","c":3,"v":3},{"s":"YV5B","b":"18","c":4,"v":3},{"s":"YV5B","b":"18","c":5,"v":3},{"s":"YV5B","b":"18","c":6,"v":2},{"s":"YV5B","b":"18","c":7,"v":2},{"s":"YV5B","b":"18","c":8,"v":2},{"s":"YV5B","b":"18","c":9,"v":3},{"s":"YV5B","b":"18","c":10,"v":3},{"s":"YV5B","b":"18","c":12,"v":4},{"s":"YV5B","b":"18","c":13,"v":3},{"s":"YV5B","b":"18","c":14,"v":3},{"s":"YV5B","b":"18","c":15,"v":5},{"s":"YV5B","b":"18","c":16,"v":5},{"s":"YV5B","b":"18","c":17,"v":4},{"s":"YV5B","b":"18","c":18,"v":2},{"s":"YV5B","b":"18","c":19,"v":2},{"s":"YV5B","b":"18","c":20,"v":2},{"s":"YV5B","b":"18","c":21,"v":4},{"s":"YV5B","b":"18","c":22,"v":4},{"s":"YV5B","b":"18","c":23,"v":3},{"s":"YV5B","b":"18","c":25,"v":5},{"s":"YV5B","b":"18","c":26,"v":3},{"s":"YV5B","b":"18","c":27,"v":2},{"s":"YV5B","b":"18","c":30,"v":1},{"s":"YV5B","b":"18","c":43,"v":1},{"s":"YV5B","b":"18","c":53,"v":4},{"s":"YV5B","b":"18","c":54,"v":3},{"s":"YV5B","b":"18","c":55,"v":3},{"s":"YV5B","b":"18","c":56,"v":3},{"s":"YV5B","b":"18","c":57,"v":2},{"s":"YV5B","b":"18","c":58,"v":3},{"s":"YV5B","b":"18","c":59,"v":3},{"s":"YV5B","b":"18","c":60,"v":2},{"s":"YV5B","b":"18","c":61,"v":1},{"s":"YV5B","b":"18","c":62,"v":3},{"s":"YV5B","b":"18","c":63,"v":3},{"s":"YV5B","b":"18","c":64,"v":3},{"s":"YV5B","b":"18","c":65,"v":3},{"s":"YV5B","b":"18","c":66,"v":3},{"s":"YV5B","b":"18","c":67,"v":2},{"s":"YV5B","b":"18","c":68,"v":2},{"s":"YV5B","b":"18","c":69,"v":3},{"s":"YV5B","b":"18","c":70,"v":3},{"s":"YV5B","b":"18","c":71,"v":2},{"s":"YV5B","b":"18","c":72,"v":2},{"s":"YV5B","b":"18","c":73,"v":3},{"s":"YV5B","b":"18","c":74,"v":3},{"s":"YV5B","b":"18","c":75,"v":2},{"s":"YV5B","b":"18","c":76,"v":3},{"s":"YV5B","b":"18","c":77,"v":2},{"s":"YV5B","b":"18","c":78,"v":3},{"s":"YV5B","b":"18","c":79,"v":1},{"s":"YV5B","b":"18","c":80,"v":2},{"s":"YV5B","b":"18","c":81,"v":2},{"s":"YV5B","b":"18","c":82,"v":4},{"s":"YV5B","b":"18","c":83,"v":3},{"s":"YV5B","b":"18","c":84,"v":4},{"s":"YV5B","b":"18","c":85,"v":4},{"s":"YV5B","b":"18","c":86,"v":3},{"s":"YV5B","b":"18","c":87,"v":3},{"s":"YV5B","b":"18","c":88,"v":4},{"s":"YV5B","b":"18","c":89,"v":5},{"s":"YV5B","b":"18","c":90,"v":3},{"s":"YV5B","b":"18","c":91,"v":4},{"s":"YV5B","b":"18","c":92,"v":3},{"s":"YV5B","b":"18","c":93,"v":3},{"s":"YV5B","b":"18","c":94,"v":5},{"s":"YV5B","b":"18","c":95,"v":4},
{"s":"YV5B","b":"14","c":0,"v":0},{"s":"YV5B","b":"14","c":1,"v":3},{"s":"YV5B","b":"14","c":2,"v":2},{"s":"YV5B","b":"14","c":3,"v":4},{"s":"YV5B","b":"14","c":4,"v":4},{"s":"YV5B","b":"14","c":5,"v":4},{"s":"YV5B","b":"14","c":6,"v":4},{"s":"YV5B","b":"14","c":7,"v":4},{"s":"YV5B","b":"14","c":8,"v":4},{"s":"YV5B","b":"14","c":9,"v":5},{"s":"YV5B","b":"14","c":10,"v":5},{"s":"YV5B","b":"14","c":12,"v":4},{"s":"YV5B","b":"14","c":13,"v":4},{"s":"YV5B","b":"14","c":14,"v":5},{"s":"YV5B","b":"14","c":15,"v":5},{"s":"YV5B","b":"14","c":16,"v":5},{"s":"YV5B","b":"14","c":17,"v":6},{"s":"YV5B","b":"14","c":18,"v":5},{"s":"YV5B","b":"14","c":19,"v":5},{"s":"YV5B","b":"14","c":20,"v":5},{"s":"YV5B","b":"14","c":21,"v":5},{"s":"YV5B","b":"14","c":22,"v":4},{"s":"YV5B","b":"14","c":23,"v":6},{"s":"YV5B","b":"14","c":24,"v":0},{"s":"YV5B","b":"14","c":25,"v":5},{"s":"YV5B","b":"14","c":26,"v":5},{"s":"YV5B","b":"14","c":27,"v":5},{"s":"YV5B","b":"14","c":28,"v":4},{"s":"YV5B","b":"14","c":29,"v":7},{"s":"YV5B","b":"14","c":30,"v":6},{"s":"YV5B","b":"14","c":31,"v":2},{"s":"YV5B","b":"14","c":32,"v":1},{"s":"YV5B","b":"14","c":33,"v":4},{"s":"YV5B","b":"14","c":34,"v":3},{"s":"YV5B","b":"14","c":35,"v":3},{"s":"YV5B","b":"14","c":36,"v":1},{"s":"YV5B","b":"14","c":38,"v":1},{"s":"YV5B","b":"14","c":40,"v":2},{"s":"YV5B","b":"14","c":41,"v":5},{"s":"YV5B","b":"14","c":42,"v":4},{"s":"YV5B","b":"14","c":43,"v":6},{"s":"YV5B","b":"14","c":44,"v":3},{"s":"YV5B","b":"14","c":45,"v":3},{"s":"YV5B","b":"14","c":46,"v":4},{"s":"YV5B","b":"14","c":47,"v":6},{"s":"YV5B","b":"14","c":48,"v":4},{"s":"YV5B","b":"14","c":49,"v":3},{"s":"YV5B","b":"14","c":50,"v":4},{"s":"YV5B","b":"14","c":51,"v":6},{"s":"YV5B","b":"14","c":52,"v":4},{"s":"YV5B","b":"14","c":53,"v":5},{"s":"YV5B","b":"14","c":54,"v":2},{"s":"YV5B","b":"14","c":55,"v":3},{"s":"YV5B","b":"14","c":56,"v":3},{"s":"YV5B","b":"14","c":57,"v":3},{"s":"YV5B","b":"14","c":58,"v":3},{"s":"YV5B","b":"14","c":59,"v":3},{"s":"YV5B","b":"14","c":60,"v":1},{"s":"YV5B","b":"14","c":62,"v":2},{"s":"YV5B","b":"14","c":63,"v":2},{"s":"YV5B","b":"14","c":64,"v":2},{"s":"YV5B","b":"14","c":65,"v":1},{"s":"YV5B","b":"14","c":66,"v":1},{"s":"YV5B","b":"14","c":78,"v":1},{"s":"YV5B","b":"14","c":82,"v":1},{"s":"YV5B","b":"14","c":87,"v":1},{"s":"YV5B","b":"14","c":88,"v":1},{"s":"YV5B","b":"14","c":89,"v":1},{"s":"YV5B","b":"14","c":90,"v":1},{"s":"YV5B","b":"14","c":91,"v":1},{"s":"YV5B","b":"14","c":92,"v":2},{"s":"YV5B","b":"14","c":93,"v":3},{"s":"YV5B","b":"14","c":94,"v":2},{"s":"YV5B","b":"14","c":95,"v":2}
]},"spacing":8,"vconcat":[{"data":{"name":"cells"},"facet":{"field":"s","type":"nominal","sort":["4U1UN","VE8AT","W6WX","KH6WO","ZL6B","VK6RBP","JA2IGY","RR9O","VR2B","4S7B","ZS6DN","5Z4B","4X6TU","OH2B","CS3B","LU4AA","OA4B","YV5B"],"title":null,"header":{"title":null,"labelOrient":"top","labelAnchor":"start","labelFont":"Liberation Sans","labelFontSize":11,"labelColor":"#000000","labelPadding":1}},"columns":1,"spacing":2,"spec":{"width":485,"height":40,"encoding":{"x":{"field":"c","type":"ordinal","axis":null,"scale":{"domain":[0,1,2,3,4,5,6,7,8,9,10,11,12,13,14,15,16,17,18,19,20,21,22,23,24,25,26,27,28,29,30,31,32,33,34,35,36,37,38,39,40,41,42,43,44,45,46,47,48,49,50,51,52,53,54,55,56,57,58,59,60,61,62,63,64,65,66,67,68,69,70,71,72,73,74,75,76,77,78,79,80,81,82,83,84,85,86,87,88,89,90,91,92,93,94,95],"paddingInner":0.2,"paddingOuter":0.6,"round":false}},"y":{"field":"b","type":"ordinal","scale":{"domain":["28","24","21","18","14"],"paddingInner":0.142857,"paddingOuter":0.428571,"round":false},"axis":{"title":null,"orient":"right","domain":false,"offset":2,"tickSize":5,"tickColor":"#000000","labelColor":"#000000","labelFontSize":12,"labelPadding":2,"labelExpr":"datum.value=='28'||datum.value=='14'?datum.value:''"}}},"layer":[{"data":{"name":"grid"},"mark":{"type":"rect","fill":"#707070"}},{"mark":{"type":"rect"},"encoding":{"color":{"field":"v","type":"ordinal","legend":null,"scale":{"domain":[0,1,2,3,4,5,6,7],"range":["#A0A0A0","#8080FF","#80C0FF","#80FFFF","#80FFC0","#80FF80","#C0FF80","#FFFF80"]}}}},{"data":{"name":"seps"},"mark":{"type":"rule","color":"#FFFFFF","strokeWidth":1,"xOffset":-0.5},"encoding":{"x":{"field":"c","type":"ordinal","bandPosition":0},"y":{"value":0},"y2":{"value":40}}}]}},{"data":{"name":"foot"},"width":485,"height":20,"view":{"fill":null},"mark":{"type":"text","align":"left","fontSize":11,"color":"#000000"},"encoding":{"x":{"field":"p","type":"quantitative","axis":null,"scale":{"domain":[0,485]}},"text":{"field":"t"}}}]}
